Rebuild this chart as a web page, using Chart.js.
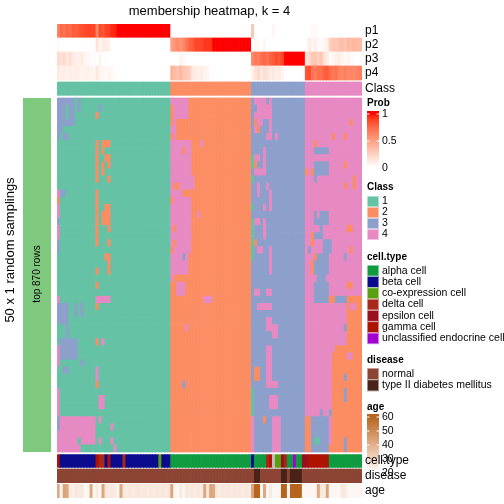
<!DOCTYPE html>
<html>
<head>
<meta charset="utf-8">
<script src="https://cdn.jsdelivr.net/npm/chart.js@4.4.0/dist/chart.umd.min.js"></script>
<style>
html, body { margin: 0; padding: 0; background: #fff; }
#wrap { width: 504px; height: 504px; }
</style>
</head>
<body>
<div id="wrap"><canvas id="chart" width="504" height="504"></canvas></div>
<script>
// 数据
const classSizes = [38, 27, 18, 19];          // 每个类别的列数
const classNames = ['1', '2', '3', '4'];
const classColors = ['#66C2A5', '#FC8D62', '#8DA0CB', '#E78AC3'];
const nRows = 50;

// 每列的成员概率
const p1 = [0.62,0.75,0.7,0.76,0.72,0.8,0.78,0.82,0.85,0.86, 0.88,0.88,0.88,0.6,0.86,0.82,0.88,0.9,0.95,0.96,
  1,1,1,1,1,1,1,1,1,1, 1,1,1,1,1,1,1,1,
  0,0,0,0,0,0,0,0,0,0, 0,0,0,0,0,0,0,0,0,0, 0,0,0,0,0,0,0,
  0.3,0,0,0,0,0,0,0.05,0,0, 0,0,0,0,0,0,0,0,
  0,0,0.03,0.03,0,0,0,0,0,0, 0,0,0,0,0,0,0,0,0];
const p2 = [0.03,0,0,0,0,0,0,0,0,0, 0,0,0,0.15,0.05,0.1,0.1,0.08,0,0,
  0,0,0,0,0,0,0,0,0,0, 0,0,0,0,0,0,0,0,
  0.5,0.55,0.6,0.55,0.62,0.7,0.78,0.8,0.88,0.88, 0.88,0.92,0.92,0.92,1,1,1,1,1,1, 1,1,1,1,1,1,1,
  0,0.05,0.03,0,0.04,0,0,0,0,0, 0,0,0,0,0,0,0,0,
  0.02,0.1,0.05,0.08,0.03,0.02,0.05,0.08,0.25,0.3, 0.28,0.32,0.35,0.3,0.36,0.35,0.38,0.36,0.35];
const p3 = [0.2,0.15,0.2,0.12,0.18,0.1,0.08,0.08,0.1,0.04, 0.04,0.02,0.02,0,0.05,0,0,0,0,0,
  0,0,0,0,0,0,0,0,0,0, 0,0,0,0,0,0,0,0,
  0,0,0,0.05,0.03,0,0,0,0,0, 0,0,0,0,0,0,0,0,0,0, 0,0,0,0,0,0,0,
  0.6,0.68,0.65,0.72,0.75,0.7,0.78,0.8,0.85,0.82, 0.88,1,1,1,1,1,1,1,
  0.15,0.2,0.28,0.3,0.25,0.3,0.15,0.1,0.02,0.05, 0.08,0.1,0.05,0.02,0.05,0.03,0,0,0];
const p4 = [0.12,0.08,0.1,0.08,0.1,0.08,0.1,0.08,0.06,0.08, 0.08,0.06,0.06,0.12,0.05,0.05,0.03,0.05,0.03,0.02,
  0,0,0,0,0,0,0,0,0,0, 0,0,0,0,0,0,0,0,
  0.4,0.35,0.32,0.38,0.3,0.28,0.25,0.12,0.1,0.08, 0.1,0.06,0.05,0,0,0,0,0,0,0, 0,0,0,0,0,0,0,
  0.08,0.15,0.2,0.12,0.18,0.15,0.1,0.12,0.08,0.1, 0.06,0,0,0,0,0,0,0,
  0.82,0.85,0.7,0.65,0.72,0.7,0.78,0.8,0.72,0.68, 0.7,0.62,0.6,0.65,0.6,0.62,0.6,0.62,0.65];

// 每次抽样中与共识类别不同的区块: [行起, 行止, 列起, 列止, 类别]
const patches = [
  [0,4,0,6,3],[1,3,3,4,1],[0,2,7,8,3],[1,2,14,15,3],[2,3,13,14,2],
  [4,5,0,2,3],[5,6,0,1,3],[5,6,2,4,3],
  [6,12,13,14,2],[6,7,15,18,2],[7,8,15,16,2],[8,9,16,18,2],[9,10,15,16,2],[9,10,17,18,2],[10,11,15,16,2],[11,12,17,18,2],
  [13,14,0,1,4],[13,14,1,3,3],[14,15,0,1,2],[15,18,0,1,4],
  [13,18,13,14,2],[15,18,16,18,2],[16,18,15,16,2],
  [17,18,0,1,3],[18,20,0,1,4],[20,22,0,1,3],
  [17,21,13,14,2],[17,19,17,18,2],[17,18,15,16,2],[20,21,17,18,2],[22,23,16,18,2],[23,25,17,18,2],
  [24,25,13,14,2],[26,27,13,14,2],[29,30,13,14,2],[34,35,13,14,2],
  [28,29,0,1,4],[28,29,13,18,4],
  [29,32,0,4,3],[29,31,6,7,3],[29,31,8,9,3],
  [32,34,3,4,3],[34,36,1,7,3],[34,35,15,16,4],
  [35,38,0,1,4],[35,37,1,7,3],[37,38,8,9,3],[38,39,2,4,3],
  [38,40,13,14,4],[40,41,13,14,2],[42,44,14,16,4],[41,45,0,1,4],
  [45,47,0,1,3],[45,48,1,13,4],[47,48,0,1,4],[48,49,0,7,4],[48,49,8,13,4],[49,50,0,8,4],
  [45,46,14,15,4],[46,47,18,19,4],[48,49,14,15,4],[48,49,18,19,4],[49,50,19,20,4],

  [0,3,38,44,4],[1,3,38,39,2],
  [3,4,39,40,4],[4,5,38,40,4],[5,6,39,40,4],
  [6,18,38,45,4],[6,7,48,49,4],[7,8,42,43,2],[11,13,45,46,4],[12,13,39,41,2],[13,14,42,45,2],[14,15,38,39,2],[16,17,47,48,4],
  [17,22,38,45,4],[18,19,39,40,2],[20,21,39,40,2],[21,22,38,39,2],
  [22,25,38,44,4],[22,23,42,43,3],[25,26,38,39,4],[26,28,40,43,4],
  [28,29,49,52,4],[32,33,43,44,4],[40,41,42,43,3],

  [0,1,66,70,4],[0,1,71,72,4],[1,2,67,72,4],[2,3,66,71,4],[2,4,71,72,4],[3,4,66,67,2],[3,4,67,69,4],
  [4,5,66,67,4],[4,5,67,68,2],[4,5,71,72,4],[5,6,70,72,4],[5,6,73,74,4],
  [7,11,69,70,4],[8,9,66,68,4],[8,10,65,66,1],[9,10,66,67,2],[10,11,66,70,4],[11,12,65,66,1],
  [12,14,67,68,4],[12,13,70,71,4],[13,16,71,72,4],[15,16,69,70,4],[15,16,65,66,1],
  [17,23,65,66,1],[17,18,66,68,4],[17,20,69,70,4],[20,21,66,67,2],[21,22,67,69,4],[21,25,71,72,4],
  [27,28,66,68,4],[27,28,70,72,4],[29,30,67,72,4],[31,33,70,72,4],[32,34,72,74,4],
  [35,40,70,72,4],[38,40,66,68,2],[40,41,70,74,4],[42,44,71,74,4],[41,45,65,66,1],
  [45,50,65,66,4],[45,50,72,75,4],[45,46,69,70,2],

  [3,4,98,99,2],[5,6,92,93,2],[5,6,96,97,2],[6,7,86,87,2],[7,8,86,91,3],[9,11,86,91,3],[9,10,96,97,2],
  [10,11,83,84,2],[10,11,85,86,2],[11,12,86,87,3],[11,13,99,100,2],[12,13,96,97,2],[16,18,86,87,3],[16,18,88,91,3],
  [17,18,86,91,3],[18,19,97,99,2],[18,19,88,89,3],[19,20,86,89,3],[19,20,85,86,2],[20,21,85,86,2],[20,21,89,92,3],
  [21,22,84,85,3],[21,22,89,92,3],[21,22,98,99,2],[22,23,86,87,2],[22,23,87,91,3],[22,23,96,97,3],
  [23,25,85,86,2],[23,25,86,91,3],[25,26,87,90,3],[26,28,86,91,3],[26,27,97,99,2],
  [28,29,86,91,3],[28,29,91,93,2],[28,29,93,97,3],[28,29,97,102,2],
  [29,36,97,102,2],[29,30,98,100,4],[32,33,96,97,3],
  [35,50,92,102,2],[35,36,92,93,4],[36,37,97,99,4],[39,40,96,97,3],[41,43,96,97,3],[44,45,88,89,3],[44,45,91,92,3],
  [45,50,83,85,2],[45,50,85,91,3],[48,49,86,88,1],[49,50,91,92,2],[48,50,96,97,3]
];

// 底部注释
const cellTypeNames = ['alpha cell', 'beta cell', 'co-expression cell', 'delta cell', 'epsilon cell', 'gamma cell', 'unclassified endocrine cell'];
const cellTypeColors = ['#0f9b3f', '#0b0b8e', '#58a00f', '#a8281a', '#99101f', '#ae1300', '#a300cf'];
const naColor = '#bebebe';
// [类型序号 (-1 = NA), 列数]
const cellTypeRuns = [[5,1],[1,12],[5,1],[3,2],[1,1],[5,1],[1,4],[3,1],[1,11],[2,1],[1,3],[0,27],[1,1],[0,4],
  [3,1],[5,1],[-1,1],[2,2],[4,1],[3,1],[0,2],[6,1],[0,2],[4,2],[5,7],[0,11]];
const diseaseNames = ['normal', 'type II diabetes mellitus'];
const diseaseColors = ['#8c4435', '#4a2318'];
const diseaseRuns = [[0,66],[1,2],[0,7],[1,2],[0,1],[1,4],[0,20]];
const age = [42,22,43,42,25,24,26,25,26,22, 22,42,22,25,22,43,26,25,26,25,
  22,42,26,25,26,25,26,26,25,26, 25,26,25,26,25,26,25,26,
  43,22,22,25,22,26,25,26,25,26, 25,42,26,43,42,26,25,26,25,26, 25,26,25,26,25,26,25,
  43,60,61,22,42,22,25,22,22,22, 60,61,22,60,61,60,60,22,
  22,22,22,22,42,26,25,43,22,22, 22,22,26,25,22,22,22,22,22];
const ageTicks = [60, 50, 40, 30, 20];
const probTicks = [1, 0.5, 0];

const FONT = '"Liberation Sans", Arial, Helvetica, sans-serif';

// 颜色插值 (LAB)
function hexToRgb(h) { const n = parseInt(h.slice(1), 16); return [n >> 16 & 255, n >> 8 & 255, n & 255]; }
function lin(c) { c /= 255; return c <= 0.04045 ? c / 12.92 : Math.pow((c + 0.055) / 1.055, 2.4); }
function gam(c) { c = c <= 0.0031308 ? 12.92 * c : 1.055 * Math.pow(c, 1 / 2.4) - 0.055; return Math.round(Math.max(0, Math.min(1, c)) * 255); }
function rgbToLab(rgb) {
    const [r, g, b] = rgb.map(lin);
    const x = (0.4124 * r + 0.3576 * g + 0.1805 * b) / 0.95047;
    const y = 0.2126 * r + 0.7152 * g + 0.0722 * b;
    const z = (0.0193 * r + 0.1192 * g + 0.9505 * b) / 1.08883;
    const f = t => t > 0.008856 ? Math.cbrt(t) : 7.787 * t + 16 / 116;
    const fx = f(x), fy = f(y), fz = f(z);
    return [116 * fy - 16, 500 * (fx - fy), 200 * (fy - fz)];
}
function labToRgb([L, A, B]) {
    const fy = (L + 16) / 116, fx = fy + A / 500, fz = fy - B / 200;
    const fi = t => t * t * t > 0.008856 ? t * t * t : (t - 16 / 116) / 7.787;
    const x = fi(fx) * 0.95047, y = fi(fy), z = fi(fz) * 1.08883;
    const r = 3.2406 * x - 1.5372 * y - 0.4986 * z;
    const g = -0.9689 * x + 1.8758 * y + 0.0415 * z;
    const b = 0.0557 * x - 0.2040 * y + 1.0570 * z;
    return `rgb(${gam(r)},${gam(g)},${gam(b)})`;
}
function ramp(lo, hi, v0, v1) {
    const a = rgbToLab(hexToRgb(lo)), b = rgbToLab(hexToRgb(hi));
    return v => {
        const t = Math.max(0, Math.min(1, (v - v0) / (v1 - v0)));
        return labToRgb(a.map((x, i) => x + (b[i] - x) * t));
    };
}
const probColor = ramp('#ffffff', '#ff0000', 0, 1);
const ageColor = ramp('#ffffff', '#b5651d', 20, 60);

// 展开
const consensus = [];
classSizes.forEach((n, k) => { for (let i = 0; i < n; i++) consensus.push(k + 1); });
const nCols = consensus.length;
const labels = consensus.map((_, i) => i);

const membership = [];
for (let r = 0; r < nRows; r++) membership.push(consensus.slice());
patches.forEach(([r0, r1, c0, c1, k]) => {
    for (let r = r0; r < r1; r++) for (let c = c0; c < c1; c++) membership[r][c] = k;
});

function expand(runs) { const out = []; runs.forEach(([v, n]) => { for (let i = 0; i < n; i++) out.push(v); }); return out; }
const cellType = expand(cellTypeRuns);
const disease = expand(diseaseRuns);

// 堆叠条形 (从下往上)
function track(h, colors) {
    return { data: labels.map(() => h), backgroundColor: colors };
}
function gap(h) {
    return { data: labels.map(() => h), backgroundColor: 'rgba(0,0,0,0)', inflateAmount: 0 };
}

const rowH = 354 / nRows;
const datasets = [];
datasets.push(track(13.7, age.map(v => ageColor(v))));
datasets.push(gap(1.6));
datasets.push(track(13.7, disease.map(d => diseaseColors[d])));
datasets.push(gap(1.6));
datasets.push(track(12.8, cellType.map(t => t < 0 ? naColor : cellTypeColors[t])));
datasets.push(gap(2.6));
for (let r = nRows - 1; r >= 0; r--) {
    datasets.push(track(rowH, membership[r].map(k => classColors[k - 1])));
}
datasets.push(gap(2.7));
datasets.push(track(13.3, consensus.map(k => classColors[k - 1])));
datasets.push(gap(2));
[p4, p3, p2, p1].forEach(p => datasets.push(track(14, p.map(v => probColor(v)))));

// 文字与图例
const decor = {
    id: 'decor',
    afterDraw(chart) {
        const ctx = chart.ctx;
        ctx.save();
        ctx.fillStyle = '#000';

        // 标题
        ctx.font = '13px ' + FONT;
        ctx.textAlign = 'center';
        ctx.textBaseline = 'alphabetic';
        ctx.fillText('membership heatmap, k = 4', 209.5, 15);

        // 左侧
        ctx.fillStyle = '#7FC97F';
        ctx.fillRect(23, 98, 28, 354);
        ctx.fillStyle = '#000';
        ctx.save();
        ctx.translate(40, 274);
        ctx.rotate(-Math.PI / 2);
        ctx.font = '10px ' + FONT;
        ctx.fillText('top 870 rows', 0, 0);
        ctx.restore();
        ctx.save();
        ctx.translate(14, 250);
        ctx.rotate(-Math.PI / 2);
        ctx.font = '13px ' + FONT;
        ctx.fillText('50 x 1 random samplings', 0, 0);
        ctx.restore();

        // 顶部注释名称
        ctx.textAlign = 'left';
        ctx.textBaseline = 'middle';
        ctx.font = '12px ' + FONT;
        [['p1', 31], ['p2', 45], ['p3', 59], ['p4', 73], ['Class', 89]].forEach(([t, y]) => ctx.fillText(t, 365, y));

        const lx = 367, tx = 382;
        const title = (t, y) => {
            ctx.font = 'bold 10px ' + FONT;
            ctx.textBaseline = 'alphabetic';
            ctx.fillStyle = '#000';
            ctx.fillText(t, lx, y);
        };
        const label = (t, y) => {
            ctx.font = '10.5px ' + FONT;
            ctx.textBaseline = 'middle';
            ctx.fillStyle = '#000';
            ctx.fillText(t, tx, y);
        };
        const boxes = (names, colors, y0, step) => {
            names.forEach((n, i) => {
                ctx.fillStyle = colors[i];
                ctx.fillRect(lx, y0 + i * step, 12, step);
                ctx.strokeStyle = 'rgba(255,255,255,0.8)';
                ctx.lineWidth = 0.6;
                ctx.strokeRect(lx + 0.3, y0 + i * step + 0.3, 11.4, step - 0.6);
                label(n, y0 + i * step + step / 2);
            });
        };

        // Prob
        title('Prob', 106);
        let g = ctx.createLinearGradient(0, 111, 0, 167);
        for (let i = 0; i <= 20; i++) g.addColorStop(i / 20, probColor(1.05 - i / 20 * 1.05));
        ctx.fillStyle = g;
        ctx.fillRect(lx, 111, 12, 56);
        probTicks.forEach(v => {
            const y = 168 - v * 54;
            if (v > 0) {
                ctx.strokeStyle = '#fff';
                ctx.lineWidth = 1;
                ctx.beginPath();
                ctx.moveTo(lx, y); ctx.lineTo(lx + 2.5, y);
                ctx.moveTo(lx + 9.5, y); ctx.lineTo(lx + 12, y);
                ctx.stroke();
            }
            label(String(v), y);
        });

        // Class
        title('Class', 190);
        boxes(classNames, classColors, 196, 11);

        // cell.type
        title('cell.type', 260);
        boxes(cellTypeNames, cellTypeColors, 265, 11.3);

        // disease
        title('disease', 363);
        boxes(diseaseNames, diseaseColors, 368, 11.6);

        // age
        title('age', 410);
        g = ctx.createLinearGradient(0, 414, 0, 470);
        for (let i = 0; i <= 20; i++) g.addColorStop(i / 20, ageColor(62 - i / 20 * 40));
        ctx.fillStyle = g;
        ctx.fillRect(lx, 414, 12, 56);
        ageTicks.forEach(v => {
            const y = 417 + (60 - v) * 1.4;
            if (y < 470) {
                ctx.strokeStyle = '#fff';
                ctx.lineWidth = 1;
                ctx.beginPath();
                ctx.moveTo(lx, y); ctx.lineTo(lx + 2.5, y);
                ctx.moveTo(lx + 9.5, y); ctx.lineTo(lx + 12, y);
                ctx.stroke();
            }
            label(String(v), y);
        });

        // 底部注释名称
        ctx.font = '12px ' + FONT;
        ctx.textBaseline = 'middle';
        ctx.fillStyle = '#000';
        [['cell.type', 461], ['disease', 476], ['age', 491]].forEach(([t, y]) => ctx.fillText(t, 365, y));

        ctx.restore();
    }
};

new Chart(document.getElementById('chart').getContext('2d'), {
    type: 'bar',
    data: { labels: labels, datasets: datasets },
    options: {
        responsive: false,
        animation: false,
        events: [],
        layout: { padding: { left: 57, right: 142, top: 24, bottom: 6 } },
        datasets: {
            bar: { barPercentage: 1, categoryPercentage: 1, borderWidth: 0, borderSkipped: false }
        },
        plugins: {
            legend: { display: false },
            tooltip: { enabled: false },
            title: { display: false }
        },
        scales: {
            x: { type: 'category', display: false, stacked: true, grid: { display: false } },
            y: { type: 'linear', display: false, stacked: true, min: 0, max: 474, grid: { display: false } }
        }
    },
    plugins: [decor]
});
</script>
</body>
</html>
